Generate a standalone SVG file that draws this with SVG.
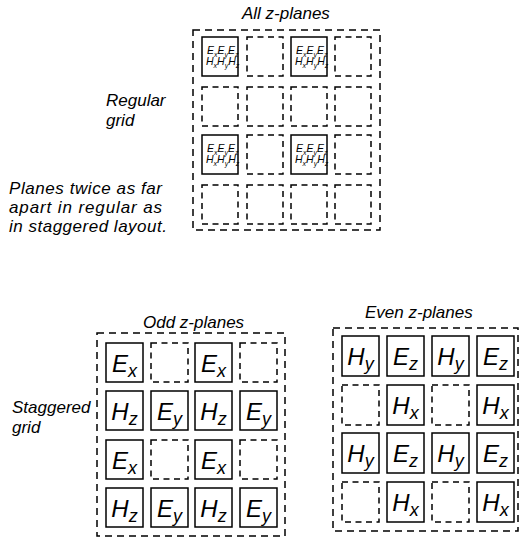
<svg xmlns="http://www.w3.org/2000/svg" width="520" height="540" viewBox="0 0 520 540">
<style>
text{font-family:"Liberation Sans",Arial,Helvetica,sans-serif;font-style:italic;fill:#000}
.lbl{font-size:17px}
.big{font-size:24px;text-anchor:middle}
.sub{font-size:18px}
.sm{font-size:10.5px}
.ss{font-size:7px}
.outer{fill:none;stroke:#000;stroke-width:1.5;stroke-dasharray:7 5}
.dc{fill:none;stroke:#000;stroke-width:1.5;stroke-dasharray:6 4.5}
.sc{fill:none;stroke:#000;stroke-width:1.5}
</style>
<rect width="520" height="540" fill="#fff"/>
<g id="labels">
<text class="lbl" x="242" y="19">All z-planes</text>
<text class="lbl" x="106" y="106">Regular</text>
<text class="lbl" x="106" y="126">grid</text>
<text class="lbl" x="9" y="194" textLength="153">Planes twice as far</text>
<text class="lbl" x="9" y="213" textLength="153">apart in regular as</text>
<text class="lbl" x="9" y="232" textLength="158">in staggered layout.</text>
<text class="lbl" x="143" y="328">Odd z-planes</text>
<text class="lbl" x="365" y="318">Even z-planes</text>
<text class="lbl" x="12" y="413">Staggered</text>
<text class="lbl" x="12" y="433">grid</text>
</g>
<g id="connectors"/>
<g id="regular-grid">
<rect class="outer" x="193" y="30" width="187" height="200"/>
<g id="r11"><rect class="sc" x="202" y="37" width="36" height="39"/><text class="sm" x="207" y="54">E<tspan class="ss" dy="2.5">x</tspan><tspan dy="-2.5">E</tspan><tspan class="ss" dy="2.5">y</tspan><tspan dy="-2.5">E</tspan><tspan class="ss" dy="2.5">z</tspan></text><text class="sm" x="206" y="65">H<tspan class="ss" dy="2.5">x</tspan><tspan dy="-2.5">H</tspan><tspan class="ss" dy="2.5">y</tspan><tspan dy="-2.5">H</tspan><tspan class="ss" dy="2.5">z</tspan></text></g>
<g id="r12"><rect class="dc" x="247" y="37" width="36" height="39"/></g>
<g id="r13"><rect class="sc" x="291" y="37" width="36" height="39"/><text class="sm" x="296" y="54">E<tspan class="ss" dy="2.5">x</tspan><tspan dy="-2.5">E</tspan><tspan class="ss" dy="2.5">y</tspan><tspan dy="-2.5">E</tspan><tspan class="ss" dy="2.5">z</tspan></text><text class="sm" x="295" y="65">H<tspan class="ss" dy="2.5">x</tspan><tspan dy="-2.5">H</tspan><tspan class="ss" dy="2.5">y</tspan><tspan dy="-2.5">H</tspan><tspan class="ss" dy="2.5">z</tspan></text></g>
<g id="r14"><rect class="dc" x="335" y="37" width="36" height="39"/></g>
<g id="r21"><rect class="dc" x="202" y="87" width="36" height="39"/></g>
<g id="r22"><rect class="dc" x="247" y="87" width="36" height="39"/></g>
<g id="r23"><rect class="dc" x="291" y="87" width="36" height="39"/></g>
<g id="r24"><rect class="dc" x="335" y="87" width="36" height="39"/></g>
<g id="r31"><rect class="sc" x="202" y="135" width="36" height="39"/><text class="sm" x="207" y="152">E<tspan class="ss" dy="2.5">x</tspan><tspan dy="-2.5">E</tspan><tspan class="ss" dy="2.5">y</tspan><tspan dy="-2.5">E</tspan><tspan class="ss" dy="2.5">z</tspan></text><text class="sm" x="206" y="163">H<tspan class="ss" dy="2.5">x</tspan><tspan dy="-2.5">H</tspan><tspan class="ss" dy="2.5">y</tspan><tspan dy="-2.5">H</tspan><tspan class="ss" dy="2.5">z</tspan></text></g>
<g id="r32"><rect class="dc" x="247" y="135" width="36" height="39"/></g>
<g id="r33"><rect class="sc" x="291" y="135" width="36" height="39"/><text class="sm" x="296" y="152">E<tspan class="ss" dy="2.5">x</tspan><tspan dy="-2.5">E</tspan><tspan class="ss" dy="2.5">y</tspan><tspan dy="-2.5">E</tspan><tspan class="ss" dy="2.5">z</tspan></text><text class="sm" x="295" y="163">H<tspan class="ss" dy="2.5">x</tspan><tspan dy="-2.5">H</tspan><tspan class="ss" dy="2.5">y</tspan><tspan dy="-2.5">H</tspan><tspan class="ss" dy="2.5">z</tspan></text></g>
<g id="r34"><rect class="dc" x="335" y="135" width="36" height="39"/></g>
<g id="r41"><rect class="dc" x="202" y="185" width="36" height="39"/></g>
<g id="r42"><rect class="dc" x="247" y="185" width="36" height="39"/></g>
<g id="r43"><rect class="dc" x="291" y="185" width="36" height="39"/></g>
<g id="r44"><rect class="dc" x="335" y="185" width="36" height="39"/></g>
</g>
<g id="odd-grid">
<rect class="outer" x="97" y="333" width="188" height="203"/>
<g id="o11"><rect class="sc" x="106" y="343" width="37" height="39"/><text class="big" x="124.5" y="372">E<tspan class="sub" dy="5">x</tspan></text></g>
<g id="o12"><rect class="dc" x="151" y="343" width="37" height="39"/></g>
<g id="o13"><rect class="sc" x="195" y="343" width="37" height="39"/><text class="big" x="213.5" y="372">E<tspan class="sub" dy="5">x</tspan></text></g>
<g id="o14"><rect class="dc" x="240" y="343" width="37" height="39"/></g>
<g id="o21"><rect class="sc" x="106" y="391" width="37" height="39"/><text class="big" x="124.5" y="420">H<tspan class="sub" dy="5">z</tspan></text></g>
<g id="o22"><rect class="sc" x="151" y="391" width="37" height="39"/><text class="big" x="169.5" y="420">E<tspan class="sub" dy="5">y</tspan></text></g>
<g id="o23"><rect class="sc" x="195" y="391" width="37" height="39"/><text class="big" x="213.5" y="420">H<tspan class="sub" dy="5">z</tspan></text></g>
<g id="o24"><rect class="sc" x="240" y="391" width="37" height="39"/><text class="big" x="258.5" y="420">E<tspan class="sub" dy="5">y</tspan></text></g>
<g id="o31"><rect class="sc" x="106" y="440" width="37" height="39"/><text class="big" x="124.5" y="469">E<tspan class="sub" dy="5">x</tspan></text></g>
<g id="o32"><rect class="dc" x="151" y="440" width="37" height="39"/></g>
<g id="o33"><rect class="sc" x="195" y="440" width="37" height="39"/><text class="big" x="213.5" y="469">E<tspan class="sub" dy="5">x</tspan></text></g>
<g id="o34"><rect class="dc" x="240" y="440" width="37" height="39"/></g>
<g id="o41"><rect class="sc" x="106" y="488" width="37" height="39"/><text class="big" x="124.5" y="517">H<tspan class="sub" dy="5">z</tspan></text></g>
<g id="o42"><rect class="sc" x="151" y="488" width="37" height="39"/><text class="big" x="169.5" y="517">E<tspan class="sub" dy="5">y</tspan></text></g>
<g id="o43"><rect class="sc" x="195" y="488" width="37" height="39"/><text class="big" x="213.5" y="517">H<tspan class="sub" dy="5">z</tspan></text></g>
<g id="o44"><rect class="sc" x="240" y="488" width="37" height="39"/><text class="big" x="258.5" y="517">E<tspan class="sub" dy="5">y</tspan></text></g>
</g>
<g id="even-grid">
<rect class="outer" x="333" y="328" width="185" height="203"/>
<g id="e11"><rect class="sc" x="342" y="336" width="37" height="40"/><text class="big" x="360.5" y="365">H<tspan class="sub" dy="5">y</tspan></text></g>
<g id="e12"><rect class="sc" x="387" y="336" width="37" height="40"/><text class="big" x="405.5" y="365">E<tspan class="sub" dy="5">z</tspan></text></g>
<g id="e13"><rect class="sc" x="432" y="336" width="37" height="40"/><text class="big" x="450.5" y="365">H<tspan class="sub" dy="5">y</tspan></text></g>
<g id="e14"><rect class="sc" x="477" y="336" width="37" height="40"/><text class="big" x="495.5" y="365">E<tspan class="sub" dy="5">z</tspan></text></g>
<g id="e21"><rect class="dc" x="342" y="385" width="37" height="40"/></g>
<g id="e22"><rect class="sc" x="387" y="385" width="37" height="40"/><text class="big" x="405.5" y="414">H<tspan class="sub" dy="5">x</tspan></text></g>
<g id="e23"><rect class="dc" x="432" y="385" width="37" height="40"/></g>
<g id="e24"><rect class="sc" x="477" y="385" width="37" height="40"/><text class="big" x="495.5" y="414">H<tspan class="sub" dy="5">x</tspan></text></g>
<g id="e31"><rect class="sc" x="342" y="433" width="37" height="40"/><text class="big" x="360.5" y="462">H<tspan class="sub" dy="5">y</tspan></text></g>
<g id="e32"><rect class="sc" x="387" y="433" width="37" height="40"/><text class="big" x="405.5" y="462">E<tspan class="sub" dy="5">z</tspan></text></g>
<g id="e33"><rect class="sc" x="432" y="433" width="37" height="40"/><text class="big" x="450.5" y="462">H<tspan class="sub" dy="5">y</tspan></text></g>
<g id="e34"><rect class="sc" x="477" y="433" width="37" height="40"/><text class="big" x="495.5" y="462">E<tspan class="sub" dy="5">z</tspan></text></g>
<g id="e41"><rect class="dc" x="342" y="482" width="37" height="40"/></g>
<g id="e42"><rect class="sc" x="387" y="482" width="37" height="40"/><text class="big" x="405.5" y="511">H<tspan class="sub" dy="5">x</tspan></text></g>
<g id="e43"><rect class="dc" x="432" y="482" width="37" height="40"/></g>
<g id="e44"><rect class="sc" x="477" y="482" width="37" height="40"/><text class="big" x="495.5" y="511">H<tspan class="sub" dy="5">x</tspan></text></g>
</g>
</svg>
